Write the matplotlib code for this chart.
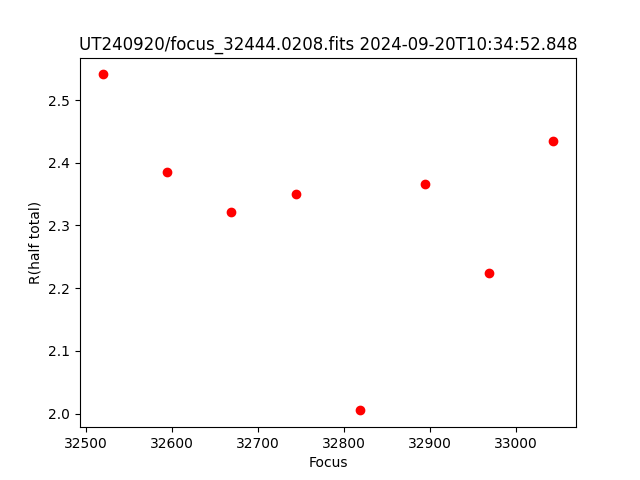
"""
focus run: half-total radius against focus position
"""
import matplotlib
matplotlib.use("Agg")
import matplotlib.pyplot as plt

focus = [32519, 32594, 32669, 32744, 32819, 32894, 32969, 33044]
r_half_total = [2.541, 2.385, 2.321, 2.350, 2.005, 2.366, 2.224, 2.434]
title = "UT240920/focus_32444.0208.fits 2024-09-20T10:34:52.848"


def main():
    fig, ax = plt.subplots(figsize=(6.4, 4.8), dpi=100)
    ax.plot(focus, r_half_total, "ro")
    ax.set_xlabel("Focus")
    ax.set_ylabel("R(half total)")
    ax.set_title(title)
    fig.savefig("out.png")


if __name__ == "__main__":
    main()
